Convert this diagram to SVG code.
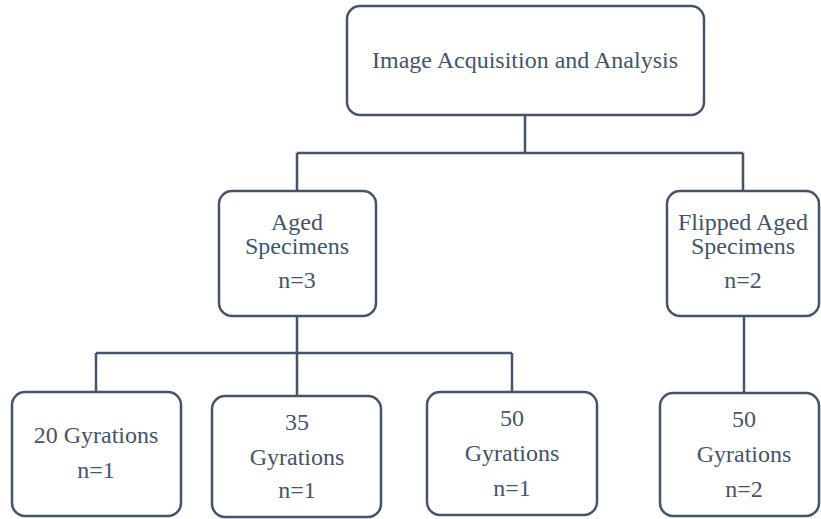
<svg xmlns="http://www.w3.org/2000/svg" width="821" height="519" viewBox="0 0 821 519">
<style>
.box{fill:#ffffff;stroke:#44546a;stroke-width:2.5}
.ln{fill:none;stroke:#44546a;stroke-width:2.5}
.t{font-family:"Liberation Serif","Times New Roman",serif;font-size:24px;fill:#44546a;text-anchor:middle}
</style>
<rect width="821" height="519" fill="#ffffff"/>
<g id="connectors">
<path class="ln" d="M525,115 V153 M297,153 H743 M297,153 V191 M743,153 V191"/>
<path class="ln" d="M297,317 V353 M96,353 H512 M96,353 V392 M297,353 V396 M512,353 V392"/>
<path class="ln" d="M744,317 V393"/>
</g>
<g id="root">
<rect class="box" x="347" y="6" width="357" height="109" rx="13"/>
<text class="t" x="525" y="68">Image Acquisition and Analysis</text>
</g>
<g id="aged">
<rect class="box" x="219" y="191" width="157" height="125" rx="13"/>
<text class="t" x="297" y="230">Aged</text>
<text class="t" x="297" y="254">Specimens</text>
<text class="t" x="297" y="288">n=3</text>
</g>
<g id="flipped">
<rect class="box" x="667" y="191" width="152" height="125" rx="13"/>
<text class="t" x="743" y="230">Flipped Aged</text>
<text class="t" x="743" y="254">Specimens</text>
<text class="t" x="743" y="288">n=2</text>
</g>
<g id="g20">
<rect class="box" x="12" y="392" width="169" height="124" rx="13"/>
<text class="t" x="96" y="443">20 Gyrations</text>
<text class="t" x="96" y="478">n=1</text>
</g>
<g id="g35">
<rect class="box" x="212" y="396" width="169" height="121" rx="13"/>
<text class="t" x="297" y="430">35</text>
<text class="t" x="297" y="465">Gyrations</text>
<text class="t" x="297" y="498">n=1</text>
</g>
<g id="g50">
<rect class="box" x="427" y="392" width="170" height="123" rx="13"/>
<text class="t" x="512" y="426">50</text>
<text class="t" x="512" y="461">Gyrations</text>
<text class="t" x="512" y="496">n=1</text>
</g>
<g id="f50">
<rect class="box" x="660" y="393" width="159" height="123" rx="13"/>
<text class="t" x="744" y="427">50</text>
<text class="t" x="744" y="462">Gyrations</text>
<text class="t" x="744" y="497">n=2</text>
</g>
</svg>
